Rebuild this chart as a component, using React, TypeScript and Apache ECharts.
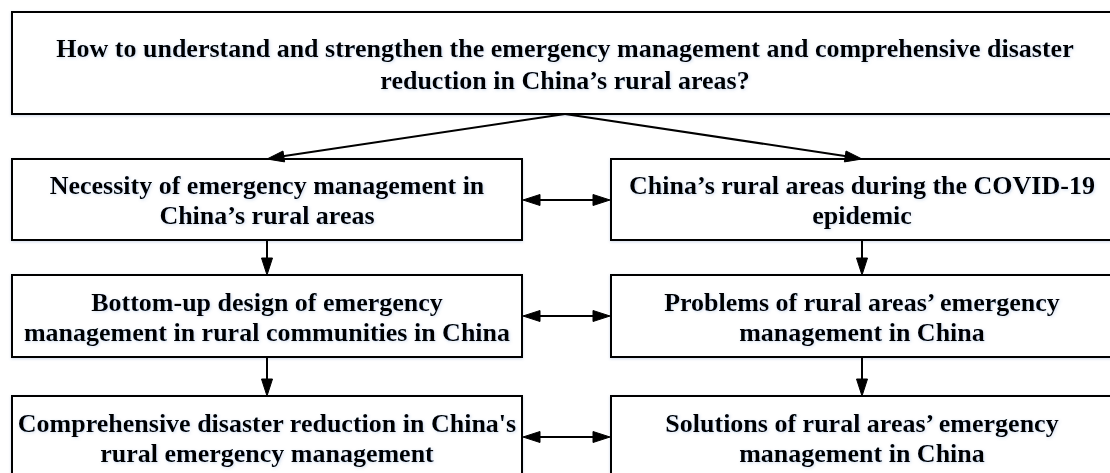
import React, { useEffect, useRef } from "react";
import * as echarts from "echarts";

const titleLines = [
  "How to understand and strengthen the emergency management and comprehensive disaster",
  "reduction in China’s rural areas?",
];
const leftColumn = [
  ["Necessity of emergency management in", "China’s rural areas"],
  ["Bottom-up design of emergency", "management in rural communities in China"],
  ["Comprehensive disaster reduction in China's", "rural emergency management"],
];
const rightColumn = [
  ["China’s rural areas during the COVID-19", "epidemic"],
  ["Problems of rural areas’ emergency", "management in China"],
  ["Solutions of rural areas’ emergency", "management in China"],
];

// layout
const TOP = { x: 12, y: 12, w: 1106, h: 102 };
const LEFT_X = 12;
const LEFT_W = 510;
const RIGHT_X = 611;
const RIGHT_W = 502;
const ROW_Y = [159, 275, 396];
const ROW_H = [81, 82, 82];
const FONT = 26;
const LINE_H = 30;

function arrowHead(tx: number, ty: number, fx: number, fy: number, len = 17, hw = 5.5) {
  const dx = tx - fx;
  const dy = ty - fy;
  const d = Math.sqrt(dx * dx + dy * dy);
  const ux = dx / d;
  const uy = dy / d;
  const bx = tx - ux * len;
  const by = ty - uy * len;
  return {
    type: "polygon",
    shape: {
      points: [
        [tx, ty],
        [bx - uy * hw, by + ux * hw],
        [bx + uy * hw, by - ux * hw],
      ],
    },
    style: { fill: "#000", stroke: "#000", lineWidth: 1 },
  };
}

function line(x1: number, y1: number, x2: number, y2: number) {
  return {
    type: "line",
    shape: { x1, y1, x2, y2 },
    style: { stroke: "#000", lineWidth: 2 },
  };
}

function box(x: number, y: number, w: number, h: number, lines: string[], lh = LINE_H) {
  return [
    {
      type: "rect",
      shape: { x, y, width: w, height: h },
      style: {
        fill: "#fff",
        stroke: "#000",
        lineWidth: 2,
        shadowColor: "rgba(120,150,200,0.35)",
        shadowBlur: 3,
        shadowOffsetY: 1,
      },
    },
    {
      type: "text",
      style: {
        text: lines.join("\n"),
        x: x + w / 2,
        y: y + h / 2 + 1,
        align: "center",
        verticalAlign: "middle",
        fontFamily: '"Liberation Serif", "Times New Roman", serif',
        fontWeight: "bold",
        fontSize: FONT,
        lineHeight: lh,
        fill: "#000",
        textShadowColor: "rgba(100,140,200,0.3)",
        textShadowBlur: 3,
        textShadowOffsetX: 1,
        textShadowOffsetY: 1,
      },
    },
  ];
}

export default function App() {
  const ref = useRef<HTMLDivElement>(null);
  useEffect(() => {
    if (!ref.current) return;
    const chart = echarts.init(ref.current, undefined, { renderer: "svg" });
    const els: any[] = [];
    els.push(...box(TOP.x, TOP.y, TOP.w, TOP.h, titleLines, 32));
    const leftCx = LEFT_X + LEFT_W / 2;
    const rightCx = RIGHT_X + RIGHT_W / 2;
    for (let i = 0; i < 3; i++) {
      els.push(...box(LEFT_X, ROW_Y[i], LEFT_W, ROW_H[i], leftColumn[i]));
      els.push(...box(RIGHT_X, ROW_Y[i], RIGHT_W, ROW_H[i], rightColumn[i]));
      const my = ROW_Y[i] + 41;
      const lx = LEFT_X + LEFT_W + 1;
      const rx = RIGHT_X - 1;
      els.push(line(lx + 10, my, rx - 10, my));
      els.push(arrowHead(lx, my, rx, my));
      els.push(arrowHead(rx, my, lx, my));
      if (i < 2) {
        const y1 = ROW_Y[i] + ROW_H[i];
        const y2 = ROW_Y[i + 1];
        els.push(line(leftCx, y1, leftCx, y2 - 10));
        els.push(arrowHead(leftCx, y2, leftCx, y1));
        els.push(line(rightCx, y1, rightCx, y2 - 10));
        els.push(arrowHead(rightCx, y2, rightCx, y1));
      }
    }
    // top fan-out
    const sx = 565;
    const sy = TOP.y + TOP.h;
    els.push(line(sx, sy, leftCx + 4, ROW_Y[0] - 1));
    els.push(arrowHead(leftCx, ROW_Y[0], sx, sy));
    els.push(line(sx, sy, rightCx - 4, ROW_Y[0] - 1));
    els.push(arrowHead(rightCx, ROW_Y[0], sx, sy));

    chart.setOption({
      animation: false,
      backgroundColor: "#fff",
      graphic: { elements: els },
    });
    return () => chart.dispose();
  }, []);
  return (
    <div
      ref={ref}
      style={{ position: "fixed", left: 0, top: 0, width: 1110, height: 473 }}
    />
  );
}
